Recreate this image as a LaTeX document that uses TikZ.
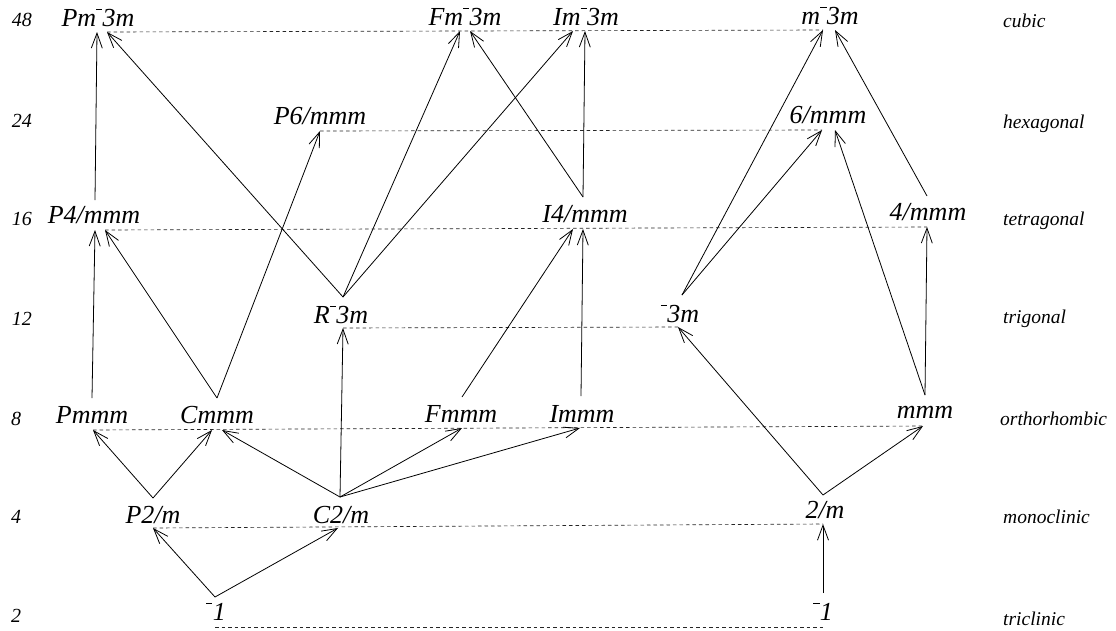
\documentclass[tikz,border=0pt]{standalone}
\usepackage{fontspec}
\setmainfont{Liberation Serif}
\usetikzlibrary{arrows.meta}
% short raised bar set before a digit (rotoinversion axis)
\newcommand\ovb{\raisebox{0.6em}{\rule{0.24em}{0.055em}}\kern0.01em}
\begin{document}
\begin{tikzpicture}[x=1pt,y=-1pt,
  grp/.style={font=\fontsize{26}{30}\selectfont\itshape, inner sep=0pt, anchor=base},
  ord/.style={font=\fontsize{20}{24}\selectfont\itshape, inner sep=0pt, anchor=base},
  sys/.style={font=\fontsize{19.5}{24}\selectfont\itshape, inner sep=0pt, anchor=base west},
  sub/.style={draw=black, line width=0.8pt, -{Straight Barb[length=15pt,width=11pt]}},
  lvl/.style={draw=black!85, line width=0.65pt, dash pattern=on 3.5pt off 3pt},
  plain/.style={draw=black, line width=0.8pt}]
\useasboundingbox (0,0) rectangle (1116,630);

% ---- orders of the groups ----
\node[ord] (o48) at (22,26)  {48};
\node[ord] (o24) at (22,127) {24};
\node[ord] (o16) at (22,225) {16};
\node[ord] (o12) at (22,325) {12};
\node[ord] (o8)  at (16,425) {8};
\node[ord] (o4)  at (16,523) {4};
\node[ord] (o2)  at (16,622) {2};

% ---- crystal systems ----
\node[sys] (scub) at (1003,27)  {cubic};
\node[sys] (shex) at (1003,128) {hexagonal};
\node[sys] (stet) at (1003,225) {tetragonal};
\node[sys] (strg) at (1003,323) {trigonal};
\node[sys] (sort) at (1000,425) {orthorhombic};
\node[sys] (smon) at (1003,523) {monoclinic};
\node[sys] (stri) at (1003,625) {triclinic};

% ---- point / space groups ----
\node[grp] (Pm3m)  at (98,26)   {Pm\ovb 3m};
\node[grp] (Fm3m)  at (465,25)  {Fm\ovb 3m};
\node[grp] (Im3m)  at (586,25)  {Im\ovb 3m};
\node[grp] (m3m)   at (830,24)  {m\ovb 3m};
\node[grp] (P6mmm) at (320,124) {P6/mmm};
\node[grp] (h6mmm) at (828,123) {6/mmm};
\node[grp] (P4mmm) at (94,223)  {P4/mmm};
\node[grp] (I4mmm) at (585,222) {I4/mmm};
\node[grp] (t4mmm) at (928,220) {4/mmm};
\node[grp] (R3m)   at (341,323) {R\ovb 3m};
\node[grp] (b3m)   at (680,322) {\ovb 3m};
\node[grp] (Pmmm)  at (92,423)  {Pmmm};
\node[grp] (Cmmm)  at (217,423) {Cmmm};
\node[grp] (Fmmm)  at (461,422) {Fmmm};
\node[grp] (Immm)  at (582,422) {Immm};
\node[grp] (mmm)   at (925,418) {mmm};
\node[grp] (P2m)   at (153,523) {P2/m};
\node[grp] (C2m)   at (341,523) {C2/m};
\node[grp] (m2m)   at (825,518) {2/m};
\node[grp] (b1L)   at (216,620) {\ovb 1};
\node[grp] (b1R)   at (823,620) {\ovb 1};

% ---- connector ends (tips under each label, tails above it) ----
\coordinate (Pm3m-a) at (97,32);   \coordinate (Pm3m-b) at (107,32);
\coordinate (Fm3m-a) at (460,31);  \coordinate (Fm3m-b) at (470,31);
\coordinate (Im3m-a) at (573,31);  \coordinate (Im3m-b) at (585,31);
\coordinate (m3m-a)  at (823,30);  \coordinate (m3m-b)  at (835,30);
\coordinate (P6mmm-a) at (320,131);
\coordinate (h6mmm-a) at (822,130); \coordinate (h6mmm-b) at (835,130);
\coordinate (P4mmm-a) at (95,230); \coordinate (P4mmm-b) at (105,230); \coordinate (P4mmm-t) at (95,200);
\coordinate (I4mmm-a) at (573,229); \coordinate (I4mmm-b) at (583,229); \coordinate (I4mmm-t) at (583,197);
\coordinate (t4mmm-a) at (927,227); \coordinate (t4mmm-t) at (927,196);
\coordinate (R3m-a) at (343,328);  \coordinate (R3m-t) at (343,297);
\coordinate (b3m-a) at (678,327);  \coordinate (b3m-t) at (682,295);
\coordinate (Pmmm-a) at (93,430);  \coordinate (Pmmm-t) at (92,398);
\coordinate (Cmmm-a) at (212,430); \coordinate (Cmmm-b) at (222,430); \coordinate (Cmmm-t) at (217,398);
\coordinate (Fmmm-a) at (462,428); \coordinate (Fmmm-t) at (462,397);
\coordinate (Immm-a) at (580,428); \coordinate (Immm-t) at (581,396);
\coordinate (mmm-a) at (923,426);  \coordinate (mmm-t) at (925,395);
\coordinate (P2m-a) at (153,528);  \coordinate (P2m-t) at (153,498);
\coordinate (C2m-a) at (338,528);  \coordinate (C2m-t) at (340,497);
\coordinate (m2m-a) at (823,524);  \coordinate (m2m-t) at (823,495);
\coordinate (b1L-a) at (215,627);  \coordinate (b1L-t) at (215,597);
\coordinate (b1R-a) at (823,627);  \coordinate (b1R-t) at (823,593);

% ---- levels of equal order ----
\draw[lvl] (Pm3m-b) -- (m3m-a);
\draw[lvl] (P6mmm-a) -- (h6mmm-a);
\draw[lvl] (P4mmm-b) -- (t4mmm-a);
\draw[lvl] (R3m-a) -- (b3m-a);
\draw[lvl] (Pmmm-a) -- (mmm-a);
\draw[lvl] (P2m-a) -- (m2m-a);
\draw[lvl] (b1L-a) -- (b1R-a);

% ---- group--supergroup relations ----
\draw[sub] (b1L-t) -- (P2m-a);
\draw[sub] (b1L-t) -- (C2m-a);
\draw[sub] (b1R-t) -- (m2m-a);

\draw[sub] (P2m-t) -- (Pmmm-a);
\draw[sub] (P2m-t) -- (Cmmm-a);
\draw[sub] (C2m-t) -- (Cmmm-b);
\draw[sub] (C2m-t) -- (R3m-a);
\draw[sub] (C2m-t) -- (Fmmm-a);
\draw[sub] (C2m-t) -- (Immm-a);
\draw[sub] (m2m-t) -- (b3m-a);
\draw[sub] (m2m-t) -- (mmm-a);

\draw[sub] (Pmmm-t) -- (P4mmm-a);
\draw[sub] (Cmmm-t) -- (P4mmm-b);
\draw[sub] (Cmmm-t) -- (P6mmm-a);
\draw[sub] (Fmmm-t) -- (I4mmm-a);
\draw[sub] (Immm-t) -- (I4mmm-b);
\draw[sub] (mmm-t) -- (h6mmm-b);
\draw[sub] (mmm-t) -- (t4mmm-a);

\draw[sub] (R3m-t) -- (Pm3m-b);
\draw[sub] (R3m-t) -- (Fm3m-a);
\draw[sub] (R3m-t) -- (Im3m-a);
\draw[sub] (b3m-t) -- (m3m-a);
\draw[sub] (b3m-t) -- (h6mmm-a);

\draw[sub] (P4mmm-t) -- (Pm3m-a);
\draw[sub] (I4mmm-t) -- (Fm3m-b);
\draw[sub] (I4mmm-t) -- (Im3m-b);
\draw[sub] (t4mmm-t) -- (m3m-b);
\end{tikzpicture}
\end{document}
